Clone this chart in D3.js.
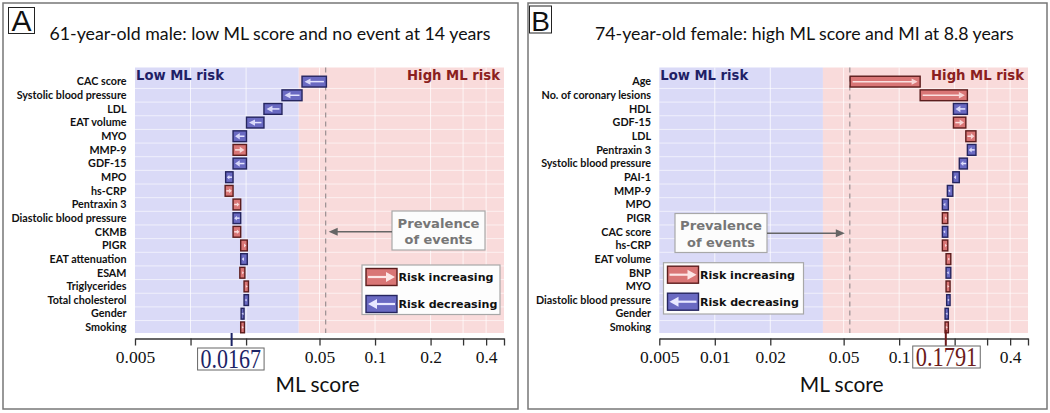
<!DOCTYPE html>
<html><head><meta charset="utf-8">
<script src="https://cdn.jsdelivr.net/npm/d3@7"></script>
<style>body{margin:0;background:#fff}svg{display:block}</style>
</head><body>
<svg id="c" width="1050" height="413"></svg>
<script>
// ---------- data ----------
const leftFeatures = ["CAC score","Systolic blood pressure","LDL","EAT volume","MYO","MMP-9","GDF-15","MPO","hs-CRP","Pentraxin 3","Diastolic blood pressure","CKMB","PIGR","EAT attenuation","ESAM","Triglycerides","Total cholesterol","Gender","Smoking"];
const leftStart = [0.0545,0.0402,0.0313,0.0250,0.0201,0.0170,0.0201,0.0170,0.0154,0.0170,0.0187,0.0170,0.0187,0.0203,0.0185,0.0195,0.0206,0.0195,0.0187];
const leftEnd   = [0.0402,0.0313,0.0250,0.0201,0.0170,0.0201,0.0170,0.0155,0.0170,0.0187,0.0170,0.0187,0.0203,0.0187,0.0197,0.0206,0.0195,0.0188,0.0196];

const rightFeatures = ["Age","No. of coronary lesions","HDL","GDF-15","LDL","Pentraxin 3","Systolic blood pressure","PAI-1","MMP-9","MPO","PIGR","CAC score","hs-CRP","EAT volume","BNP","MYO","Diastolic blood pressure","Gender","Smoking"];
const rightStart = [0.0542,0.130,0.2345,0.197,0.230,0.261,0.2345,0.212,0.1955,0.1849,0.1716,0.1836,0.1716,0.1797,0.1906,0.1797,0.1889,0.1849,0.1775];
const rightEnd   = [0.130,0.2345,0.197,0.230,0.261,0.2345,0.212,0.1955,0.1826,0.1716,0.1836,0.1716,0.1836,0.1906,0.1797,0.1889,0.1810,0.1775,0.1849];

const prevalence = 0.054;
const riskThreshold = 0.0386;
const leftScore = 0.0167, leftScoreLabel = "0.0167";
const rightScore = 0.1791, rightScoreLabel = "0.1791";
const tickValues = [0.005,0.01,0.02,0.05,0.1,0.2,0.3,0.4,0.5];
const leftTickLabels = [0.005,0.05,0.1,0.2,0.4];
const rightTickLabels = [0.005,0.01,0.02,0.05,0.1,0.4];
const gridValues = [0.01,0.02,0.05,0.1,0.2,0.3,0.4];
const leftTitle = "61-year-old male: low ML score and no event at 14 years";
const rightTitle = "74-year-old female: high ML score and MI at 8.8 years";

// ---------- drawing ----------
const svg = d3.select("#c");
const C = {
  blueBg:"#dadaf7", redBg:"#f9dbdb",
  blueFill:"#6a6ac2", blueStroke:"#25255f", blueArrow:"#e4e4ff",
  redFill:"#d97676", redStroke:"#5c1d1d", redArrow:"#fbe0e0",
  navy:"#1f1f66", darkRed:"#8a2020"
};

function fit(sel, w){
  const n = sel.node(); const cur = n.getComputedTextLength();
  const fs = parseFloat(sel.attr("font-size"));
  sel.attr("font-size", fs*w/cur);
  return fs*w/cur;
}

function panel(cfg){
  const g = svg.append("g");
  g.append("rect").attr("x",cfg.bx0).attr("y",3).attr("width",cfg.bx1-cfg.bx0).attr("height",406)
    .attr("fill","none").attr("stroke","#777").attr("stroke-width",1.5);
  g.append("rect").attr("x",cfg.lx).attr("y",cfg.ly).attr("width",cfg.lw).attr("height",cfg.lh)
    .attr("fill","#fff").attr("stroke","#222").attr("stroke-width",1);
  g.append("text").attr("x",cfg.lx+cfg.lw/2).attr("y",cfg.ly+cfg.lh-2.5).attr("text-anchor","middle")
    .attr("font-family","Liberation Sans, Arial").attr("font-size",cfg.lfs).attr("fill","#111").text(cfg.letter);
  const t = g.append("text").attr("x",cfg.tx).attr("y",40).attr("font-family","Lato, Open Sans")
    .attr("font-size",18).attr("fill","#111").text(cfg.title);
  fit(t, cfg.tw);

  const x = d3.scaleLog().domain([0.005,0.5]).range(cfg.range);
  const top = 67.5, bottom = 333;
  const y = d3.scaleBand().domain(d3.range(cfg.features.length)).range([74.8,334.2]);

  g.append("rect").attr("x",x(0.005)).attr("y",top).attr("width",x(riskThreshold)-x(0.005)).attr("height",bottom-top).attr("fill",C.blueBg);
  g.append("rect").attr("x",x(riskThreshold)).attr("y",top).attr("width",x(0.5)-x(riskThreshold)).attr("height",bottom-top).attr("fill",C.redBg);
  g.selectAll(".vg").data(gridValues).join("line")
    .attr("x1",d=>x(d)).attr("x2",d=>x(d)).attr("y1",top).attr("y2",bottom)
    .attr("stroke","#fff").attr("stroke-opacity",0.75).attr("stroke-width",1);
  g.selectAll(".hg").data(d3.range(1,cfg.features.length)).join("line")
    .attr("x1",x(0.005)).attr("x2",x(0.5)).attr("y1",d=>y(d)).attr("y2",d=>y(d))
    .attr("stroke","#fff").attr("stroke-opacity",0.6).attr("stroke-width",1);
  g.append("line").attr("x1",x(prevalence)).attr("x2",x(prevalence)).attr("y1",top).attr("y2",bottom)
    .attr("stroke","#9a8f92").attr("stroke-width",1.2).attr("stroke-dasharray","5,4");

  const lo = g.append("text").attr("x",x(0.005)+1).attr("y",80).attr("font-family","DejaVu Sans, Verdana").attr("font-weight","bold")
    .attr("font-size",12).attr("fill",C.navy).text("Low ML risk");
  fit(lo, 88);
  const hi = g.append("text").attr("x",x(0.5)-4).attr("y",80).attr("text-anchor","end").attr("font-family","DejaVu Sans, Verdana").attr("font-weight","bold")
    .attr("font-size",12).attr("fill",C.darkRed).text("High ML risk");
  fit(hi, 93);

  const labs = g.selectAll(".rl").data(cfg.features).join("text")
    .attr("x",cfg.labelX).attr("y",(d,i)=>y(i)+y.bandwidth()/2).attr("dy","0.35em")
    .attr("text-anchor","end").attr("font-family","Lato, Open Sans").attr("font-weight","bold")
    .attr("font-size",10).attr("fill","#111").text(d=>d);
  const ref = labs.filter(d=>d==="Systolic blood pressure");
  const fs = 10*110/ref.node().getComputedTextLength();
  labs.attr("font-size",fs);

  const bh = 10.8;
  cfg.features.forEach((f,i)=>{
    const s = cfg.start[i], e = cfg.end[i];
    const up = e > s;
    const x0 = x(Math.min(s,e)), x1 = x(Math.max(s,e));
    const cy = y(i)+y.bandwidth()/2;
    const fill = up?C.redFill:C.blueFill, stroke = up?C.redStroke:C.blueStroke, ac = up?C.redArrow:C.blueArrow;
    g.append("rect").attr("x",x0).attr("y",cy-bh/2).attr("width",x1-x0).attr("height",bh)
      .attr("fill",fill).attr("stroke",stroke).attr("stroke-width",1.4);
    const w = x1-x0;
    const hl = Math.min(6, Math.max(2, w*0.35)), hh = Math.min(3.2, Math.max(1.3, w*0.3));
    const pad = Math.min(2.5, w*0.15);
    if(up){
      const tip = x1-pad;
      if(w>7) g.append("line").attr("x1",x0+pad).attr("x2",tip-hl+0.5).attr("y1",cy).attr("y2",cy).attr("stroke",ac).attr("stroke-width",1.5);
      g.append("path").attr("d",`M${tip},${cy}L${tip-hl},${cy-hh}L${tip-hl},${cy+hh}Z`).attr("fill",ac).attr("opacity",0.9);
    } else {
      const tip = x0+pad;
      if(w>7) g.append("line").attr("x1",tip+hl-0.5).attr("x2",x1-pad).attr("y1",cy).attr("y2",cy).attr("stroke",ac).attr("stroke-width",1.5);
      g.append("path").attr("d",`M${tip},${cy}L${tip+hl},${cy-hh}L${tip+hl},${cy+hh}Z`).attr("fill",ac).attr("opacity",0.9);
    }
  });

  const axY = 338.5;
  const ax = g.append("g").attr("transform",`translate(0,${axY})`)
    .call(d3.axisBottom(x).tickValues(tickValues).tickSize(7).tickSizeOuter(0)
      .tickFormat(d=>cfg.tickLabels.includes(d)?String(d):""));
  ax.select(".domain").attr("stroke","#333").attr("stroke-width",1.5);
  ax.selectAll(".tick line").attr("stroke","#333").attr("stroke-width",1.3);
  ax.selectAll(".tick text").attr("font-family","Liberation Serif, Times New Roman").attr("font-size",17.5)
    .attr("fill","#111").attr("y",12.5).attr("dy","0.71em");

  g.append("line").attr("x1",x(cfg.score)).attr("x2",x(cfg.score)).attr("y1",cfg.mTop).attr("y2",346)
    .attr("stroke",cfg.scoreColor).attr("stroke-width",2);
  const bx = x(cfg.score)+cfg.boxOff;
  g.append("rect").attr("x",bx-cfg.boxW/2).attr("y",cfg.boxY).attr("width",cfg.boxW).attr("height",22)
    .attr("fill","#fff").attr("stroke","#666").attr("stroke-width",1);
  g.append("text").attr("x",bx).attr("y",cfg.boxY+19.5).attr("text-anchor","middle")
    .attr("font-family","Liberation Serif, Times New Roman").attr("font-size",27)
    .attr("textLength",cfg.boxW-6).attr("lengthAdjust","spacingAndGlyphs")
    .attr("fill",cfg.scoreColor).text(cfg.scoreLabel);

  const at = g.append("text").attr("x",(cfg.range[0]+cfg.range[1])/2 - 2).attr("y",391.5).attr("text-anchor","middle")
    .attr("font-family","Lato, Open Sans").attr("font-size",20).attr("fill","#111").text("ML score");
  fit(at, 84);

  const p = cfg.prev;
  g.append("rect").attr("x",p.x).attr("y",p.y).attr("width",p.w).attr("height",p.h)
    .attr("fill","#fcfcfc").attr("stroke","#a8a8a8").attr("stroke-width",1.2);
  const t1 = g.append("text").attr("x",p.x+p.w/2).attr("y",p.y+16.5).attr("text-anchor","middle")
    .attr("font-family","DejaVu Sans, Verdana").attr("font-weight","bold").attr("font-size",14).attr("fill","#767676").text("Prevalence");
  fit(t1, 82);
  const t2 = g.append("text").attr("x",p.x+p.w/2).attr("y",p.y+33).attr("text-anchor","middle")
    .attr("font-family","DejaVu Sans, Verdana").attr("font-weight","bold").attr("font-size",14).attr("fill","#767676").text("of events");
  fit(t2, 68);
  const ay = p.ay, ax1 = p.arrowFrom, ax2 = x(prevalence) + p.arrowGap;
  g.append("line").attr("x1",ax1).attr("x2",ax2 + (ax2<ax1?7:-7)).attr("y1",ay).attr("y2",ay).attr("stroke","#666").attr("stroke-width",1.6);
  const dir = ax2<ax1 ? 1 : -1;
  g.append("path").attr("d",`M${ax2},${ay}L${ax2+dir*9},${ay-4}L${ax2+dir*9},${ay+4}Z`).attr("fill","#666");

  const L = cfg.leg;
  g.append("rect").attr("x",L.x).attr("y",L.y).attr("width",L.w).attr("height",L.h)
    .attr("fill","#fdfdfd").attr("stroke","#a8a8a8").attr("stroke-width",1.2);
  [["Risk increasing",true,L.y+3.5],["Risk decreasing",false,L.y+30.5]].forEach(([txt,up,sy])=>{
    const sx = L.x+4, sw = 31, sh = 17;
    g.append("rect").attr("x",sx).attr("y",sy).attr("width",sw).attr("height",sh)
      .attr("fill",up?C.redFill:C.blueFill).attr("stroke",up?C.redStroke:C.blueStroke).attr("stroke-width",1.4);
    const cy = sy+sh/2, ac = up?"#fde6e6":"#e8e8ff";
    if(up){
      g.append("line").attr("x1",sx+2).attr("x2",sx+sw-9).attr("y1",cy).attr("y2",cy).attr("stroke",ac).attr("stroke-width",2.2);
      g.append("path").attr("d",`M${sx+sw-2},${cy}L${sx+sw-11},${cy-5}L${sx+sw-11},${cy+5}Z`).attr("fill",ac);
    } else {
      g.append("line").attr("x1",sx+9).attr("x2",sx+sw-2).attr("y1",cy).attr("y2",cy).attr("stroke",ac).attr("stroke-width",2.2);
      g.append("path").attr("d",`M${sx+2},${cy}L${sx+11},${cy-5}L${sx+11},${cy+5}Z`).attr("fill",ac);
    }
    const tt = g.append("text").attr("x",sx+sw+1.5).attr("y",cy).attr("dy","0.36em")
      .attr("font-family","DejaVu Sans, Verdana").attr("font-weight","bold").attr("font-size",12).attr("fill","#111").text(txt);
    fit(tt, up?95:99);
  });
}

panel({
  bx0:3, bx1:518, letter:"A", lx:8.5, ly:7.5, lw:26, lh:26, lfs:30,
  title:leftTitle, tx:49.5, tw:441,
  range:[135,504], labelX:126.5, features:leftFeatures, start:leftStart, end:leftEnd,
  tickLabels:leftTickLabels, score:leftScore, scoreLabel:leftScoreLabel, scoreColor:"#1c2466",
  mTop:333, boxOff:-0.8, boxW:66.5, boxY:348,
  prev:{x:392,y:211,w:93,h:39,ay:231.7,arrowFrom:392,arrowGap:3},
  leg:{x:362,y:265,w:138,h:49.5}
});
panel({
  bx0:528, bx1:1047, letter:"B", lx:529.5, ly:6, lw:22, lh:27, lfs:28,
  title:rightTitle, tx:595, tw:419,
  range:[659.3,1028], labelX:651, features:rightFeatures, start:rightStart, end:rightEnd,
  tickLabels:rightTickLabels, score:rightScore, scoreLabel:rightScoreLabel, scoreColor:"#6b1a1a",
  mTop:330, boxOff:0.7, boxW:67.5, boxY:346,
  prev:{x:675,y:213.5,w:92,h:39,ay:233.3,arrowFrom:767,arrowGap:-5},
  leg:{x:663.5,y:262.7,w:140,h:51.3}
});
</script>
</body></html>
